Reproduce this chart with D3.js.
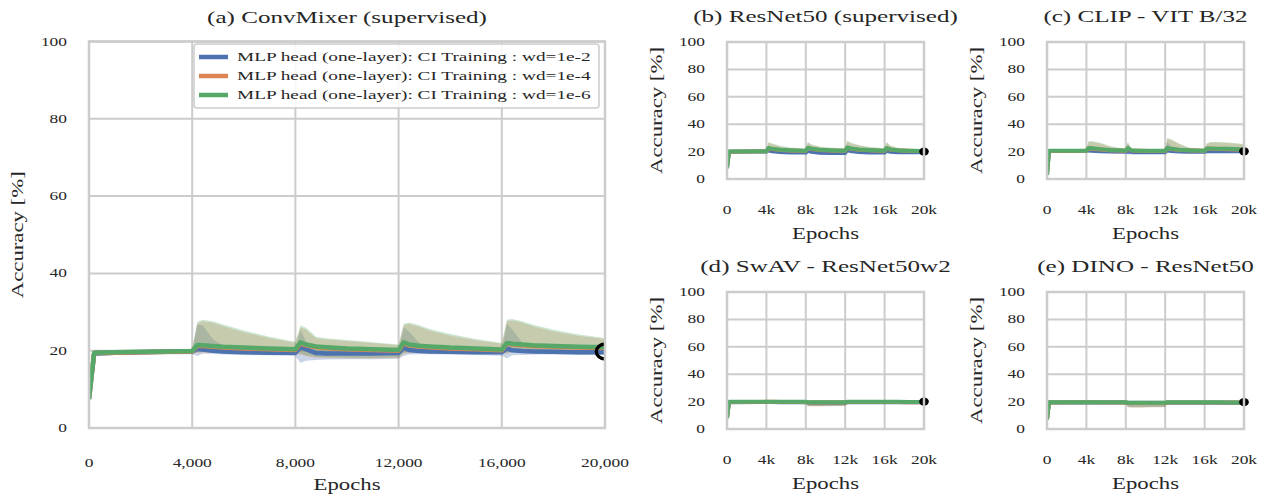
<!DOCTYPE html>
<html><head><meta charset="utf-8">
<script src="https://cdn.jsdelivr.net/npm/d3@7"></script>
<style>body{margin:0;background:#fff}</style>
</head><body>
<script>
// ---------------- DATA ----------------
const xTickVals = [0, 4000, 8000, 12000, 16000, 20000];
const yTickVals = [0, 20, 40, 60, 80, 100];
const mainXTickLabels = ["0", "4,000", "8,000", "12,000", "16,000", "20,000"];
const smallXTickLabels = ["0", "4k", "8k", "12k", "16k", "20k"];
const titles = ["(a) ConvMixer (supervised)", "(b) ResNet50 (supervised)", "(c) CLIP - VIT B/32", "(d) SwAV - ResNet50w2", "(e) DINO - ResNet50"];
const seriesNames = ["MLP head (one-layer): CI Training : wd=1e-2", "MLP head (one-layer): CI Training : wd=1e-4", "MLP head (one-layer): CI Training : wd=1e-6"];
const markerEpoch = 20000;
const markerAcc = [19.8, 20.0, 20.2, 20.0, 19.6];

const mainEpochs = [0, 200, 1000, 2000, 3000, 4000, 4200, 4400, 4800, 5200, 6000, 7000, 8000, 8200, 8400, 8800, 9200, 10000, 11000, 12000, 12200, 12400, 12800, 13200, 14000, 15000, 16000, 16200, 16400, 16800, 17200, 18000, 19000, 20000];
const cmBlue   = [7.5, 19.3, 19.5, 19.6, 19.7, 19.8, 20.5, 20.3, 20.0, 19.8, 19.6, 19.5, 19.5, 20.9, 20.4, 19.4, 19.3, 19.3, 19.3, 19.4, 20.8, 20.2, 19.9, 19.8, 19.7, 19.6, 19.6, 20.6, 20.1, 19.9, 19.8, 19.7, 19.6, 19.6];
const cmBlueLo = [5, 18.6, 18.9, 19.0, 19.1, 19.1, 18.6, 19.2, 19.2, 19.0, 18.9, 18.8, 18.6, 16.8, 17.4, 17.6, 17.7, 17.8, 17.8, 17.9, 18.6, 19.0, 19.1, 19.1, 19.0, 18.9, 18.7, 18.0, 18.8, 18.9, 19.0, 19.0, 18.9, 18.9];
const cmBlueHi = [10, 20.0, 20.1, 20.2, 20.3, 20.4, 26.8, 26.6, 23.0, 21.2, 20.5, 20.3, 20.2, 25.5, 22.5, 20.3, 20.1, 20.0, 20.0, 20.1, 26.0, 25.0, 22.0, 20.9, 20.4, 20.2, 20.2, 27.0, 25.5, 22.0, 20.8, 20.4, 20.2, 20.2];
const cmOrange   = [7.5, 19.4, 19.5, 19.6, 19.7, 19.8, 21.3, 21.2, 21.0, 20.8, 20.6, 20.4, 20.2, 21.9, 21.4, 20.9, 20.7, 20.4, 20.2, 20.0, 21.9, 21.4, 21.1, 20.9, 20.6, 20.4, 20.1, 21.8, 21.6, 21.4, 21.2, 21.0, 20.8, 20.7];
const cmOrangeLo = [5, 18.7, 18.9, 19.0, 19.1, 19.2, 19.4, 19.5, 19.5, 19.4, 19.3, 19.2, 19.0, 19.0, 18.6, 18.2, 18.1, 18.0, 18.0, 18.1, 19.2, 19.4, 19.5, 19.5, 19.4, 19.3, 19.2, 19.3, 19.6, 19.7, 19.7, 19.6, 19.5, 19.4];
const cmOrangeHi = [9.5, 20.1, 20.1, 20.2, 20.3, 20.4, 27.0, 27.6, 27.2, 26.3, 24.8, 23.2, 22.0, 26.0, 25.5, 23.2, 22.9, 22.5, 22.0, 21.4, 26.6, 26.9, 26.2, 25.2, 23.9, 22.7, 21.8, 27.6, 27.8, 27.2, 26.3, 25.0, 23.8, 23.0];
const cmGreen   = [7.5, 19.5, 19.6, 19.7, 19.8, 19.9, 21.5, 21.4, 21.2, 21.0, 20.8, 20.6, 20.4, 22.2, 21.6, 21.1, 20.9, 20.6, 20.4, 20.2, 22.2, 21.6, 21.3, 21.1, 20.8, 20.6, 20.3, 22.0, 21.8, 21.6, 21.4, 21.2, 21.0, 20.9];
const cmGreenLo = [5, 18.8, 19.0, 19.1, 19.2, 19.3, 19.6, 19.7, 19.7, 19.6, 19.5, 19.4, 19.2, 19.2, 18.8, 18.4, 18.3, 18.2, 18.2, 18.3, 19.4, 19.6, 19.7, 19.7, 19.6, 19.5, 19.4, 19.5, 19.8, 19.9, 19.9, 19.8, 19.7, 19.6];
const cmGreenHi = [10, 20.2, 20.2, 20.3, 20.4, 20.5, 27.5, 28.0, 27.6, 26.8, 25.2, 23.6, 22.3, 26.5, 26.0, 23.6, 23.2, 22.8, 22.2, 21.6, 27.0, 27.3, 26.6, 25.6, 24.3, 23.0, 22.0, 28.0, 28.2, 27.6, 26.7, 25.4, 24.2, 23.3];

const smallEpochs = [0, 200, 4000, 4200, 4600, 5400, 6400, 8000, 8200, 8600, 9400, 10400, 12000, 12200, 12600, 13400, 14400, 16000, 16200, 16600, 17400, 18400, 20000];
// (b) ResNet50
const rnBlue   = [8, 19.8, 20.0, 21.0, 20.3, 19.7, 19.4, 19.3, 20.8, 19.8, 19.2, 19.0, 19.0, 21.3, 20.4, 19.7, 19.4, 19.3, 20.8, 19.8, 19.5, 19.5, 19.6];
const rnBlueLo = [5, 19.0, 19.2, 19.5, 19.0, 18.7, 18.5, 18.4, 18.8, 18.3, 18.0, 17.9, 17.9, 19.0, 18.8, 18.6, 18.5, 18.4, 19.0, 18.8, 18.7, 18.8, 19.0];
const rnBlueHi = [11, 20.6, 20.8, 24.5, 22.5, 21.0, 20.5, 20.3, 24.0, 21.5, 20.5, 20.2, 20.1, 25.0, 22.5, 20.8, 20.4, 20.2, 24.0, 21.2, 20.5, 20.3, 20.3];
const rnOrange   = [8, 19.9, 20.2, 22.3, 21.8, 21.2, 20.8, 20.5, 22.5, 21.8, 21.2, 20.8, 20.5, 22.7, 22.0, 21.4, 20.9, 20.5, 22.3, 21.4, 20.9, 20.6, 20.3];
const rnOrangeLo = [5, 19.1, 19.4, 20.5, 20.4, 20.0, 19.8, 19.5, 20.5, 20.3, 20.0, 19.8, 19.5, 20.7, 20.4, 20.1, 19.8, 19.5, 20.4, 20.1, 19.8, 19.6, 19.5];
const rnOrangeHi = [10.5, 20.7, 20.9, 26.4, 25.5, 23.8, 22.6, 21.7, 26.5, 24.8, 23.4, 22.6, 22.1, 27.4, 26.0, 24.3, 23.1, 22.1, 26.4, 24.0, 22.3, 21.4, 21.0];
const rnGreen   = [8, 20.0, 20.3, 22.6, 22.0, 21.4, 21.0, 20.6, 22.8, 22.0, 21.4, 21.0, 20.6, 23.0, 22.3, 21.6, 21.1, 20.6, 22.6, 21.6, 21.0, 20.7, 20.4];
const rnGreenLo = [5, 19.2, 19.5, 20.8, 20.6, 20.2, 20.0, 19.7, 20.8, 20.5, 20.2, 20.0, 19.7, 21.0, 20.6, 20.3, 20.0, 19.7, 20.7, 20.3, 20.0, 19.8, 19.6];
const rnGreenHi = [11, 20.8, 21.0, 27.0, 26.0, 24.2, 23.0, 22.0, 27.0, 25.2, 23.8, 23.0, 22.4, 28.0, 26.5, 24.8, 23.5, 22.4, 27.0, 24.5, 22.6, 21.6, 21.2];
// (c) CLIP
const clBlue   = [3, 20.4, 20.5, 21.0, 20.7, 20.3, 20.0, 19.8, 20.3, 19.6, 19.6, 19.6, 19.6, 21.0, 20.5, 20.1, 19.9, 19.8, 20.2, 20.3, 20.3, 20.3, 20.3];
const clBlueLo = [0.5, 19.6, 19.7, 19.6, 19.4, 19.2, 19.0, 18.9, 17.6, 18.5, 18.6, 18.7, 18.8, 19.3, 19.2, 19.0, 19.0, 19.0, 19.1, 19.2, 19.3, 19.4, 19.5];
const clBlueHi = [6, 21.2, 21.3, 24.5, 23.0, 21.5, 20.9, 20.6, 25.5, 20.6, 20.5, 20.4, 20.4, 27.0, 24.0, 21.5, 20.8, 20.6, 22.5, 22.0, 21.5, 21.3, 21.1];
const clOrange   = [3, 20.5, 20.6, 22.3, 22.1, 21.6, 21.0, 20.7, 22.3, 20.8, 20.6, 20.5, 20.5, 22.3, 21.8, 21.2, 20.9, 20.6, 22.0, 22.0, 21.9, 21.8, 21.4];
const clOrangeLo = [0.5, 19.7, 19.8, 20.3, 20.3, 20.1, 19.9, 19.8, 20.0, 19.7, 19.7, 19.7, 19.7, 20.2, 20.1, 19.9, 19.9, 19.8, 20.1, 20.2, 20.2, 20.2, 20.1];
const clOrangeHi = [5.5, 21.3, 21.4, 27.0, 27.2, 26.0, 23.6, 21.7, 26.6, 21.7, 21.4, 21.3, 21.2, 29.4, 28.4, 25.5, 22.7, 21.5, 25.5, 26.6, 26.6, 26.2, 25.2];
const clGreen   = [3, 20.6, 20.7, 22.6, 22.4, 21.8, 21.2, 20.8, 22.6, 20.9, 20.7, 20.6, 20.6, 22.6, 22.0, 21.4, 21.0, 20.7, 22.2, 22.2, 22.1, 22.0, 21.6];
const clGreenLo = [0.5, 19.8, 19.9, 20.5, 20.5, 20.3, 20.1, 19.9, 20.2, 19.8, 19.8, 19.8, 19.8, 20.4, 20.3, 20.1, 20.0, 19.9, 20.3, 20.4, 20.4, 20.4, 20.3];
const clGreenHi = [6, 21.4, 21.5, 27.5, 27.6, 26.5, 24.0, 21.8, 27.2, 21.8, 21.5, 21.4, 21.3, 30.0, 29.0, 26.0, 23.0, 21.6, 26.0, 27.0, 27.0, 26.6, 25.5];
// (d) SwAV
const swBlue   = [8, 19.6, 19.7, 19.7, 19.7, 19.6, 19.6, 19.6, 19.3, 19.2, 19.2, 19.2, 19.2, 19.5, 19.5, 19.5, 19.5, 19.5, 19.5, 19.5, 19.5, 19.5, 19.5];
const swBlueLo = [5, 19.0, 19.1, 19.1, 19.1, 19.0, 19.0, 19.0, 16.8, 16.7, 16.7, 16.8, 16.9, 18.8, 18.9, 18.9, 18.9, 18.9, 18.9, 18.9, 18.9, 18.9, 18.9];
const swBlueHi = [11, 20.2, 20.3, 20.3, 20.3, 20.2, 20.2, 20.2, 20.0, 19.9, 19.9, 19.9, 19.9, 20.1, 20.1, 20.1, 20.1, 20.1, 20.1, 20.1, 20.1, 20.1, 20.1];
const swOrange   = [8, 19.7, 19.8, 19.8, 19.8, 19.7, 19.7, 19.7, 19.4, 19.3, 19.3, 19.3, 19.3, 19.7, 19.7, 19.7, 19.7, 19.7, 19.7, 19.7, 19.7, 19.6, 19.6];
const swOrangeLo = [5, 19.1, 19.2, 19.2, 19.2, 19.1, 19.1, 19.1, 16.6, 16.5, 16.5, 16.6, 16.7, 18.9, 19.0, 19.0, 19.0, 19.0, 19.0, 19.0, 19.0, 19.0, 19.0];
const swOrangeHi = [11, 20.3, 20.4, 20.4, 20.4, 20.3, 20.3, 20.3, 20.1, 20.0, 20.0, 20.0, 20.0, 20.3, 20.3, 20.3, 20.3, 20.3, 20.3, 20.3, 20.3, 20.2, 20.2];
const swGreen   = [8, 19.8, 19.9, 19.9, 19.9, 19.8, 19.8, 19.8, 19.6, 19.5, 19.5, 19.5, 19.5, 19.8, 19.8, 19.8, 19.8, 19.8, 19.8, 19.8, 19.8, 19.7, 19.7];
const swGreenLo = [5, 19.2, 19.3, 19.3, 19.3, 19.2, 19.2, 19.2, 17.0, 16.8, 16.8, 16.9, 17.0, 19.0, 19.1, 19.1, 19.1, 19.1, 19.1, 19.1, 19.1, 19.1, 19.1];
const swGreenHi = [11, 20.4, 20.5, 20.6, 20.5, 20.4, 20.4, 20.4, 20.3, 20.2, 20.2, 20.2, 20.2, 20.4, 20.4, 20.4, 20.4, 20.4, 20.4, 20.4, 20.4, 20.3, 20.3];
// (e) DINO
const dnBlue   = [7, 19.3, 19.4, 19.4, 19.4, 19.3, 19.3, 19.3, 19.0, 18.9, 18.9, 18.9, 18.9, 19.2, 19.2, 19.2, 19.2, 19.2, 19.2, 19.2, 19.2, 19.2, 19.2];
const dnBlueLo = [4, 18.7, 18.8, 18.8, 18.8, 18.7, 18.7, 18.7, 16.0, 15.9, 15.9, 16.0, 16.1, 18.5, 18.6, 18.6, 18.6, 18.6, 18.6, 18.6, 18.6, 18.6, 18.6];
const dnBlueHi = [10, 19.9, 20.0, 20.0, 20.0, 19.9, 19.9, 19.9, 19.6, 19.5, 19.5, 19.5, 19.5, 19.8, 19.8, 19.8, 19.8, 19.8, 19.8, 19.8, 19.8, 19.8, 19.8];
const dnOrange   = [7, 19.4, 19.5, 19.5, 19.5, 19.4, 19.4, 19.4, 19.0, 18.9, 18.9, 18.9, 18.9, 19.4, 19.4, 19.4, 19.4, 19.4, 19.4, 19.4, 19.4, 19.3, 19.3];
const dnOrangeLo = [4, 18.8, 18.9, 18.9, 18.9, 18.8, 18.8, 18.8, 15.8, 15.6, 15.6, 15.7, 15.8, 18.6, 18.7, 18.7, 18.7, 18.7, 18.7, 18.7, 18.7, 18.7, 18.7];
const dnOrangeHi = [10, 20.0, 20.1, 20.1, 20.1, 20.0, 20.0, 20.0, 19.7, 19.6, 19.6, 19.6, 19.6, 20.0, 20.0, 20.0, 20.0, 20.0, 20.0, 20.0, 20.0, 19.9, 19.9];
const dnGreen   = [7, 19.5, 19.6, 19.6, 19.6, 19.5, 19.5, 19.5, 19.2, 19.1, 19.1, 19.1, 19.1, 19.5, 19.5, 19.5, 19.5, 19.5, 19.5, 19.5, 19.5, 19.4, 19.4];
const dnGreenLo = [4, 18.9, 19.0, 19.0, 19.0, 18.9, 18.9, 18.9, 16.2, 16.0, 16.0, 16.1, 16.2, 18.7, 18.8, 18.8, 18.8, 18.8, 18.8, 18.8, 18.8, 18.8, 18.8];
const dnGreenHi = [10, 20.1, 20.2, 20.2, 20.2, 20.1, 20.1, 20.1, 19.9, 19.8, 19.8, 19.8, 19.8, 20.1, 20.1, 20.1, 20.1, 20.1, 20.1, 20.1, 20.1, 20.0, 20.0];

// ---------------- STYLE ----------------
const colors = ["#4C72B0", "#DD8452", "#55A868"];
const SX = 1.45; // stretch along the reading direction (wide CM-like glyphs)
const FONT = "'Liberation Serif', serif";
const TXT = "#262626";
const GRID = "#cccccc";

const svg = d3.select("body").append("svg").attr("width", 1272).attr("height", 495);
const defs = svg.append("defs");

function stext(parent, x, y, str, size, anchor, rot) {
  return parent.append("text")
    .attr("transform", `translate(${x},${y})` + (rot ? ` rotate(${rot})` : "") + ` scale(${SX},1)`)
    .attr("text-anchor", anchor || "middle")
    .attr("dominant-baseline", "central")
    .style("font-family", FONT).style("font-size", size + "px")
    .attr("fill", TXT).text(str);
}

function panel(cfg, idx) {
  const x = d3.scaleLinear().domain([0, 20000]).range([cfg.left, cfg.right]);
  const y = d3.scaleLinear().domain([0, 100]).range([cfg.bottom, cfg.top]);
  const g = svg.append("g");
  const cid = "clip" + idx;
  defs.append("clipPath").attr("id", cid).append("rect")
    .attr("x", cfg.left).attr("y", cfg.top)
    .attr("width", cfg.right - cfg.left).attr("height", cfg.bottom - cfg.top);

  // grid
  xTickVals.forEach(v => g.append("line").attr("x1", x(v)).attr("x2", x(v)).attr("y1", cfg.top).attr("y2", cfg.bottom)
    .attr("stroke", GRID).attr("stroke-width", 2));
  yTickVals.forEach(v => g.append("line").attr("x1", cfg.left).attr("x2", cfg.right).attr("y1", y(v)).attr("y2", y(v))
    .attr("stroke", GRID).attr("stroke-width", 2));

  const plot = g.append("g").attr("clip-path", `url(#${cid})`);
  const ep = cfg.epochs;
  // confidence bands (drawn below all lines)
  cfg.series.forEach((s, i) => {
    const area = d3.area().x((d, j) => x(ep[j])).y0((d, j) => y(s.lo[j])).y1((d, j) => y(s.hi[j]));
    plot.append("path").attr("d", area(s.mean)).attr("fill", colors[i]).attr("fill-opacity", 0.3).attr("stroke", "none");
  });
  // mean lines
  cfg.series.forEach((s, i) => {
    const line = d3.line().x((d, j) => x(ep[j])).y(d => y(d));
    plot.append("path").attr("d", line(s.mean)).attr("fill", "none").attr("stroke", colors[i])
      .attr("stroke-width", cfg.lw).attr("stroke-linejoin", "round");
  });
  // end marker
  const mkp = cfg.main ? plot : g;
  const e = mkp.append("ellipse").attr("cx", x(markerEpoch)).attr("cy", y(markerAcc[idx]))
    .attr("rx", cfg.mr * 1.15).attr("ry", cfg.mr);
  if (cfg.main) e.attr("fill", "none").attr("stroke", "#000").attr("stroke-width", 3.4);
  else e.attr("fill", "#000");

  // spine
  g.append("rect").attr("x", cfg.left).attr("y", cfg.top).attr("width", cfg.right - cfg.left).attr("height", cfg.bottom - cfg.top)
    .attr("fill", "none").attr("stroke", GRID).attr("stroke-width", 2.5);

  // ticks
  const xl = cfg.main ? mainXTickLabels : smallXTickLabels;
  xTickVals.forEach((v, i) => stext(g, x(v), cfg.bottom + cfg.xtOff, xl[i], 12, "middle"));
  yTickVals.forEach(v => stext(g, cfg.left - 22, y(v), String(v), 12, "end"));
  // labels
  stext(g, (cfg.left + cfg.right) / 2, cfg.bottom + cfg.xlOff, "Epochs", 15.7, "middle");
  stext(g, cfg.left - cfg.ylOff, (cfg.top + cfg.bottom) / 2, "Accuracy [%]", 15.7, "middle", -90);
  stext(g, (cfg.left + cfg.right) / 2, cfg.top - cfg.tOff, titles[idx], 17.3, "middle");

  if (cfg.main) {
    const lg = g.append("g");
    lg.append("rect").attr("x", 194).attr("y", 44).attr("width", 405).attr("height", 64).attr("rx", 3)
      .attr("fill", "#fff").attr("fill-opacity", 0.85).attr("stroke", GRID).attr("stroke-width", 1.5);
    seriesNames.forEach((n, i) => {
      const yy = 57 + i * 19;
      lg.append("line").attr("x1", 199).attr("x2", 228).attr("y1", yy).attr("y2", yy)
        .attr("stroke", colors[i]).attr("stroke-width", 4.5);
      stext(lg, 237, yy, n, 13.3, "start");
    });
  }
}

const mk = (b, bl, bh, o, ol, oh, gm, gl, gh) => [
  {mean: b, lo: bl, hi: bh}, {mean: o, lo: ol, hi: oh}, {mean: gm, lo: gl, hi: gh}];

panel({left: 89, right: 605, top: 41.5, bottom: 428, main: true, lw: 4.5, mr: 7.5,
  xtOff: 35, xlOff: 57, ylOff: 71, tOff: 24, epochs: mainEpochs,
  series: mk(cmBlue, cmBlueLo, cmBlueHi, cmOrange, cmOrangeLo, cmOrangeHi, cmGreen, cmGreenLo, cmGreenHi)}, 0);
panel({left: 727, right: 924, top: 42, bottom: 179, lw: 4, mr: 4.2,
  xtOff: 30.5, xlOff: 55, ylOff: 70, tOff: 26, epochs: smallEpochs,
  series: mk(rnBlue, rnBlueLo, rnBlueHi, rnOrange, rnOrangeLo, rnOrangeHi, rnGreen, rnGreenLo, rnGreenHi)}, 1);
panel({left: 1047, right: 1244, top: 42, bottom: 179, lw: 4, mr: 4.2,
  xtOff: 30.5, xlOff: 55, ylOff: 70, tOff: 26, epochs: smallEpochs,
  series: mk(clBlue, clBlueLo, clBlueHi, clOrange, clOrangeLo, clOrangeHi, clGreen, clGreenLo, clGreenHi)}, 2);
panel({left: 727, right: 924, top: 292, bottom: 429, lw: 4, mr: 4.2,
  xtOff: 30.5, xlOff: 55, ylOff: 70, tOff: 26, epochs: smallEpochs,
  series: mk(swBlue, swBlueLo, swBlueHi, swOrange, swOrangeLo, swOrangeHi, swGreen, swGreenLo, swGreenHi)}, 3);
panel({left: 1047, right: 1244, top: 292, bottom: 429, lw: 4, mr: 4.2,
  xtOff: 30.5, xlOff: 55, ylOff: 70, tOff: 26, epochs: smallEpochs,
  series: mk(dnBlue, dnBlueLo, dnBlueHi, dnOrange, dnOrangeLo, dnOrangeHi, dnGreen, dnGreenLo, dnGreenHi)}, 4);
</script>
</body></html>
